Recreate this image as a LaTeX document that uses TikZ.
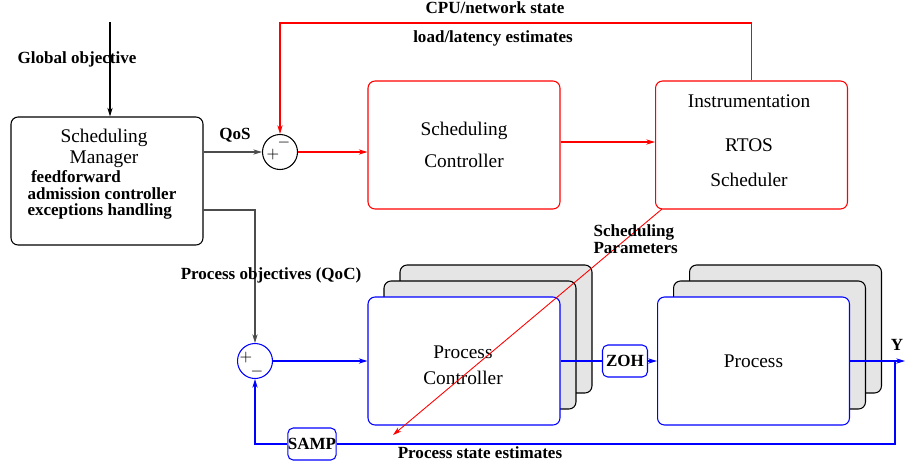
\documentclass[tikz,border=0pt]{standalone}
\usepackage{fontspec}
\setmainfont{Liberation Serif}
\usetikzlibrary{arrows.meta}

\tikzset{
  block/.style={draw, rounded corners=4pt, minimum width=3.84cm, minimum height=2.56cm},
  backblock/.style={block, fill=black!10},
  boxtext/.style={font=\fontsize{11}{13}\selectfont, align=center},
  sumpoint/.style={draw, circle, minimum size=0.7cm, inner sep=0pt},
  sign/.style={font=\fontsize{9}{9}\selectfont, inner sep=0pt},
  smallbox/.style={draw=blue, rounded corners=3pt, minimum width=0.9cm, minimum height=0.64cm,
    inner sep=0pt, font=\fontsize{9.7}{9.4}\selectfont\bfseries},
  lbl/.style={font=\fontsize{9.7}{9.4}\selectfont\bfseries, inner sep=0pt},
}

\begin{document}
\begin{tikzpicture}[x=0.02cm, y=-0.02cm, line width=0.6pt, >={Stealth[length=5pt,width=3pt]}]

  % Page size
  \useasboundingbox (0,0) rectangle (906,468);

  % Scheduling manager
  \node[block] (mgr) at (107,181) {};
  \node[boxtext] (mgrtitle) at (104,148) {Scheduling\\[-1pt]Manager};
  \node[lbl, align=left, anchor=west] (mgrtasks) at (27,195)
    {\hspace*{2pt}feedforward\\admission controller\\exceptions handling};

  % Scheduling loop (red)
  \node[sumpoint] (sumqos) at (280,152) {};
  \node[sign] (plusqos) at (273,155) {$+$};
  \node[sign] (minusqos) at (284,143) {$-$};
  \node[block, draw=red, boxtext] (sc) at (464,145) {Scheduling\\[5pt]Controller};
  \node[block, draw=red] (instr) at (751.5,145) {};
  \node[boxtext] (instrtext) at (749,141) {Instrumentation\\[12pt]RTOS\\[7pt]Scheduler};

  % Process controller stack
  \node[backblock] (pcback2) at (496,329) {};
  \node[backblock] (pcback1) at (480,345) {};
  \node[block, draw=blue, fill=white] (pc) at (464,361) {};
  \node[boxtext] (pctext) at (463,365) {Process\\[2pt]Controller};

  % Process stack
  \node[backblock] (procback2) at (785.5,329) {};
  \node[backblock] (procback1) at (769.5,345) {};
  \node[block, draw=blue, fill=white, boxtext] (proc) at (753.5,361) {Process};

  % Control loop (blue)
  \node[sumpoint, draw=blue] (sumqoc) at (255,361) {};
  \node[sign] (plusqoc) at (246,358) {$+$};
  \node[sign] (minusqoc) at (257,372) {$-$};
  \node[smallbox] (zoh) at (625,361) {ZOH};
  \node[smallbox] (samp) at (312,444) {SAMP};

  % Free ends
  \coordinate (goal) at (110,22);
  \coordinate (stateline) at (280,23);
  \coordinate (qocout) at (203,210);
  \coordinate (yout) at (905,361);
  \coordinate (ytap) at (895,361);
  \coordinate (parstart) at (662,209);
  \coordinate (parend) at (393,435);

  % Manager outputs
  \draw[->] (goal) -- (goal |- mgr.north);
  \draw[->, black!70] (sumqos -| mgr.east) -- (sumqos.west);
  \draw[->, black!70] (qocout) -| (sumqoc.north);

  % Scheduling loop
  \draw[->, red] (sumqos.east) -- (sumqos.east -| sc.west);
  \draw[->, red] ([yshift=0.06cm]sc.east) -- ([yshift=0.06cm]instr.west);
  \draw[->, red] (instr.north) |- (stateline) -- (sumqos.north);

  % Control loop
  \draw[->, blue] (sumqoc.east) -- (pc.west);
  \draw[blue] (pc.east) -- (zoh.west);
  \draw[->, blue] (zoh.east) -- (proc.west);
  \draw[->, blue] (proc.east) -- (yout);
  \draw[blue] (ytap) |- (samp.east);
  \draw[->, blue] (samp.west) -| (sumqoc.south);

  % Scheduling parameters
  \draw[->, red, line width=0.5pt] (parstart) -- (parend);

  % Labels
  \node[lbl] (goallbl) at (77,59) {Global objective};
  \node[lbl] (qoslbl) at (235,135) {QoS};
  \node[lbl] (cpulbl) at (495,8) {CPU/network state};
  \node[lbl] (loadlbl) at (493,38) {load/latency estimates};
  \node[lbl, align=left, anchor=west] (parlbl) at (593,239) {Scheduling\\Parameters};
  \node[lbl] (qoclbl) at (271,275) {Process objectives (QoC)};
  \node[lbl] (ylbl) at (897,345) {Y};
  \node[lbl] (estlbl) at (480,453) {Process state estimates};

\end{tikzpicture}
\end{document}
